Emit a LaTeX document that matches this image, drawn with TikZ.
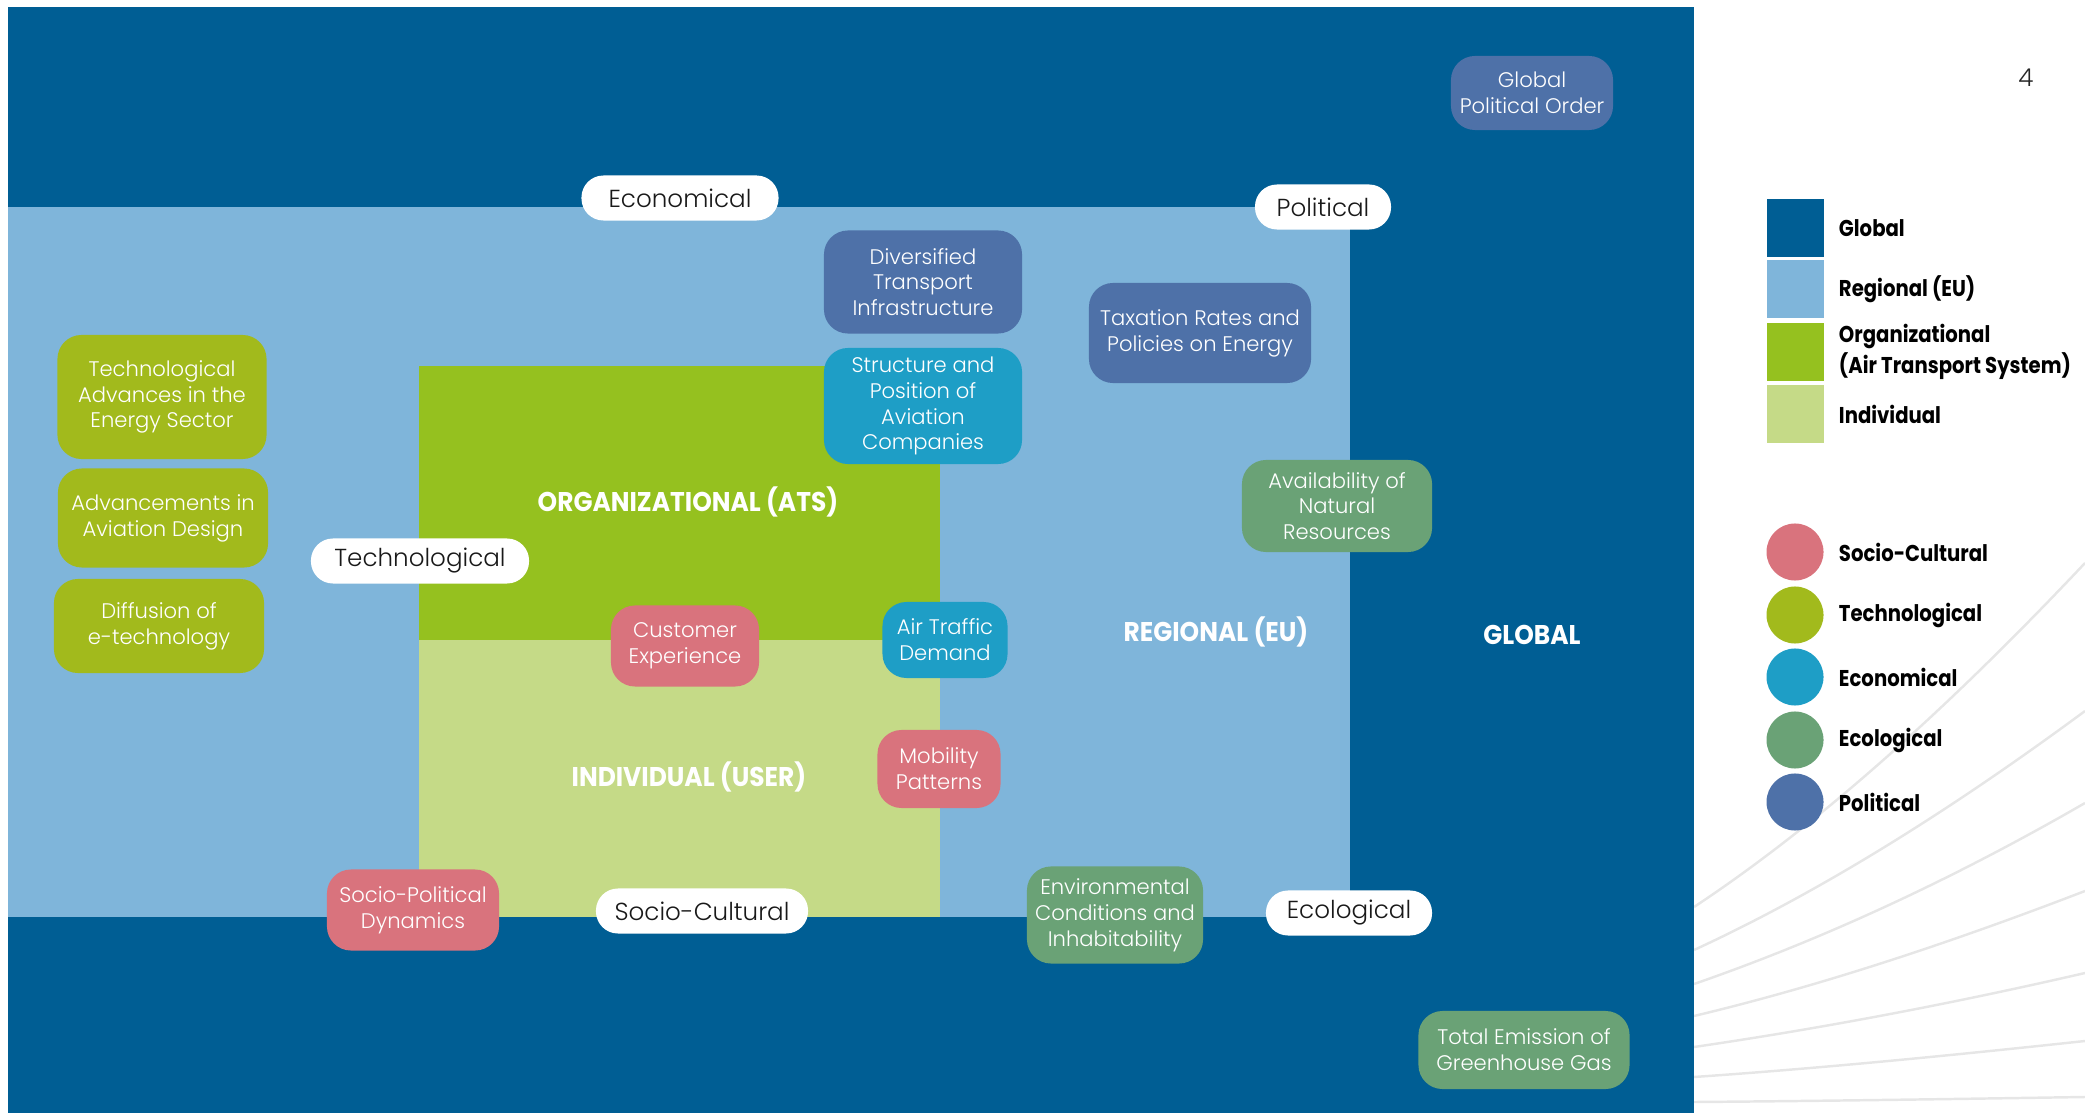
\documentclass[tikz,border=0pt]{standalone}
\usepackage{fontspec}
\setmainfont{Poppins}
\newfontfamily\lightfont{Poppins Light}
\newfontfamily\headfont{Poppins}[FakeStretch=0.92]
\newfontfamily\keyfont{Poppins}[FakeStretch=0.86]
\usetikzlibrary{positioning}

\definecolor{globalblue}{HTML}{005E94}
\definecolor{regionblue}{HTML}{7FB5DA}
\definecolor{orggreen}{HTML}{95C11F}
\definecolor{indivgreen}{HTML}{C5DA87}
\definecolor{sociopink}{HTML}{D9737D}
\definecolor{techolive}{HTML}{A2BA1C}
\definecolor{econcyan}{HTML}{1E9EC6}
\definecolor{ecolgreen}{HTML}{6AA276}
\definecolor{politblue}{HTML}{4E71A8}
\definecolor{fanline}{HTML}{E6E6E6}

\begin{document}
\begin{tikzpicture}[x=0.01cm, y=-0.01cm,
  factor/.style={rounded corners=0.24cm, text=white, align=center, inner sep=0pt,
    font=\lightfont\fontsize{6}{7.35}\selectfont},
  pill/.style={fill=white, rounded corners=0.22cm, inner sep=0pt, minimum height=0.45cm,
    text=black!90, font=\lightfont\fontsize{7}{8}\selectfont},
  level/.style={text=white, font=\headfont\bfseries\fontsize{7.7}{9}\selectfont},
  swatch/.style={minimum width=0.57cm, minimum height=0.57cm, inner sep=0pt},
  dot/.style={circle, minimum size=0.57cm, inner sep=0pt},
  keytext/.style={align=left, inner sep=0pt, font=\keyfont\bfseries\fontsize{6.5}{7.2}\selectfont}]
  \useasboundingbox (0,0) rectangle (2085,1113);

  % fan of thin lines behind the legend
  \draw[fanline, line width=0.7pt] (1694,907) .. controls (1824,821) and (1955,701) .. (2085,563);
  \draw[fanline, line width=0.7pt] (1694,950) .. controls (1824,890) and (1955,807) .. (2085,711);
  \draw[fanline, line width=0.7pt] (1694,984) .. controls (1824,939) and (1955,878) .. (2085,803);
  \draw[fanline, line width=0.7pt] (1694,1016) .. controls (1824,985) and (1955,941) .. (2085,891);
  \draw[fanline, line width=0.7pt] (1694,1047) .. controls (1824,1028) and (1955,1003) .. (2085,973);
  \draw[fanline, line width=0.7pt] (1694,1077) .. controls (1824,1068) and (1955,1055) .. (2085,1041);
  \draw[fanline, line width=0.7pt] (1694,1102) .. controls (1824,1101) and (1955,1099) .. (2085,1097);

  % nested levels
  \fill[globalblue] (8,7) rectangle (1694,1113);
  \fill[regionblue] (8,207) rectangle (1350,917);
  \fill[orggreen] (419,366) rectangle (940,640);
  \fill[indivgreen] (419,640) rectangle (940,917);

  \node[level] (orglabel) at (688,502) {ORGANIZATIONAL (ATS)};
  \node[level] (indivlabel) at (689,777) {INDIVIDUAL (USER)};
  \node[level] (reglabel) at (1216,632) {REGIONAL (EU)};
  \node[level] (globlabel) at (1532,635) {GLOBAL};

  % factors
  \node[factor, fill=politblue, minimum width=1.62cm, minimum height=0.74cm] (polorder) at (1532,93) {Global\\Political Order};
  \node[factor, fill=politblue, minimum width=1.98cm, minimum height=1.03cm] (infra) at (923,282) {Diversified\\Transport\\Infrastructure};
  \node[factor, fill=econcyan, minimum width=1.98cm, minimum height=1.16cm] (airlines) at (923,406) {Structure and\\Position of\\Aviation\\Companies};
  \node[factor, fill=politblue, minimum width=2.22cm, minimum height=1.00cm] (taxes) at (1200,333) {Taxation Rates and\\Policies on Energy};
  \node[factor, fill=techolive, minimum width=2.09cm, minimum height=1.24cm] (energytech) at (162,397) {Technological\\Advances in the\\Energy Sector};
  \node[factor, fill=techolive, minimum width=2.10cm, minimum height=0.99cm] (design) at (163,518) {Advancements in\\Aviation Design};
  \node[factor, fill=techolive, minimum width=2.10cm, minimum height=0.94cm] (etech) at (159,626) {Diffusion of\\e-technology};
  \node[factor, fill=ecolgreen, minimum width=1.90cm, minimum height=0.92cm] (resources) at (1337,506) {Availability of\\Natural\\Resources};
  \node[factor, fill=sociopink, minimum width=1.48cm, minimum height=0.81cm] (customer) at (685,646) {Customer\\Experience};
  \node[factor, fill=econcyan, minimum width=1.25cm, minimum height=0.76cm] (demand) at (945,640) {Air Traffic\\Demand};
  \node[factor, fill=sociopink, minimum width=1.23cm, minimum height=0.78cm] (mobility) at (939,769) {Mobility\\Patterns};
  \node[factor, fill=sociopink, minimum width=1.72cm, minimum height=0.81cm] (sociopol) at (413,910) {Socio-Political\\Dynamics};
  \node[factor, fill=ecolgreen, minimum width=1.76cm, minimum height=0.97cm] (environment) at (1115,915) {Environmental\\Conditions and\\Inhabitability};
  \node[factor, fill=ecolgreen, minimum width=2.11cm, minimum height=0.78cm] (emission) at (1524,1050) {Total Emission of\\Greenhouse Gas};

  % dimension tags
  \node[pill, minimum width=1.97cm] (econtag) at (680,198) {Economical};
  \node[pill, minimum width=1.36cm] (poltag) at (1323,207) {Political};
  \node[pill, minimum width=2.18cm] (techtag) at (420,561) {Technological};
  \node[pill, minimum width=2.12cm] (sociotag) at (702,911) {Socio-Cultural};
  \node[pill, minimum width=1.66cm] (ecotag) at (1349,913) {Ecological};

  % legend
  \node[font=\lightfont\fontsize{7}{8}\selectfont, text=black!85] (pagenum) at (2026,78) {4};
  \node[swatch, fill=globalblue] (kglobal) at (1795,228) {};
  \node[swatch, fill=regionblue] (kregion) at (1795,289) {};
  \node[swatch, fill=orggreen] (korg) at (1795,352) {};
  \node[swatch, fill=indivgreen] (kindiv) at (1795,414) {};
  \node[keytext, right=0.14cm of kglobal] {Global};
  \node[keytext, right=0.14cm of kregion] {Regional (EU)};
  \node[keytext, right=0.14cm of korg] {Organizational\\(Air Transport System)};
  \node[keytext, right=0.14cm of kindiv] {Individual};

  \node[dot, fill=sociopink] (ksocio) at (1795,552) {};
  \node[dot, fill=techolive] (ktech) at (1795,615) {};
  \node[dot, fill=econcyan] (kecon) at (1795,677) {};
  \node[dot, fill=ecolgreen] (kecol) at (1795,740) {};
  \node[dot, fill=politblue] (kpol) at (1795,802) {};
  \node[keytext, right=0.14cm of ksocio] {Socio-Cultural};
  \node[keytext, right=0.14cm of ktech] {Technological};
  \node[keytext, right=0.14cm of kecon] {Economical};
  \node[keytext, right=0.14cm of kecol] {Ecological};
  \node[keytext, right=0.14cm of kpol] {Political};
\end{tikzpicture}
\end{document}
